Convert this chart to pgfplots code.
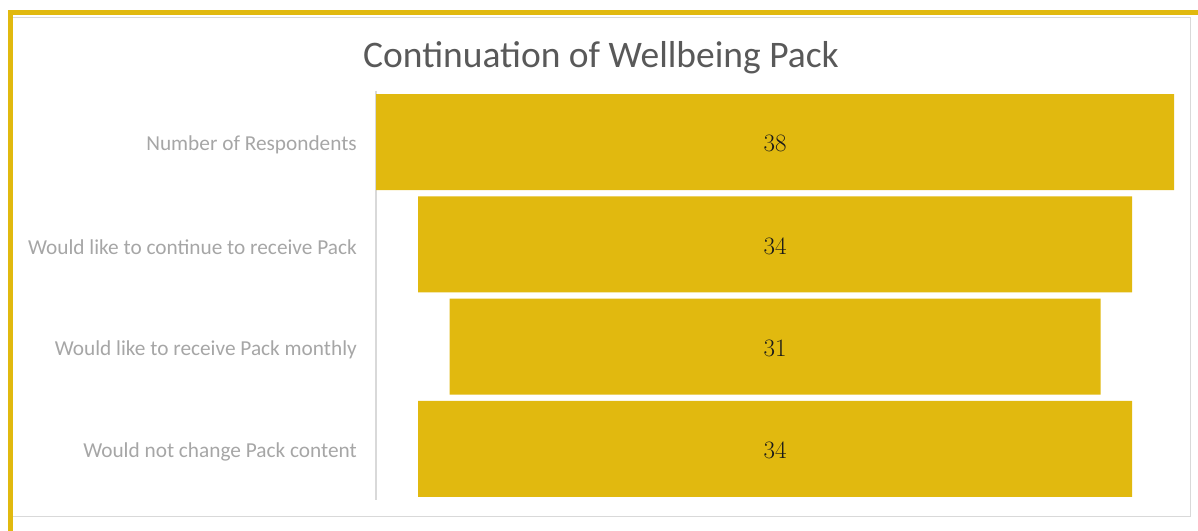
\documentclass[border=0pt]{standalone}
\usepackage{fontspec}
\setmainfont{Carlito}
\usepackage{pgfplots}
\pgfplotsset{compat=1.18}
\usepackage{pgfplotstable}
\definecolor{gold}{HTML}{E1B90F}
\definecolor{titlegray}{HTML}{595959}
\definecolor{labelgray}{HTML}{A6A6A6}
\definecolor{axisgray}{HTML}{D9D9D9}
\pgfplotstableread{
idx off val
0 0 38
1 2 34
2 3.5 31
3 2 34
}\funnel
\begin{document}
\begin{tikzpicture}[x=1bp,y=1bp]
\useasboundingbox (0,0) rectangle (1198,531);
\draw[axisgray, line width=1bp] (12.5,531-18) rectangle (1190.5,531-517);
\fill[gold] (8,531-10) rectangle (1198,531-15);
\fill[gold] (8,531-10) rectangle (13,0);
\node[anchor=base, text=titlegray, font=\fontsize{37.5bp}{44bp}\selectfont] at (601,531-68) {Continuation of Wellbeing Pack};
\begin{axis}[
  at={(376bp,31bp)}, anchor=south west,
  width=798bp, height=409bp, scale only axis,
  xbar stacked, bar width=96bp,
  xmin=0, xmax=38, ymin=-0.5, ymax=3.5,
  y dir=reverse,
  axis x line=none, axis y line*=left,
  axis line style={draw=axisgray, line width=1.2bp, -},
  ytick={0,1,2,3},
  yticklabels={Number of Respondents, Would like to continue to receive Pack, Would like to receive Pack monthly, Would not change Pack content},
  major tick length=0pt,
  yticklabel style={font=\fontsize{21.3bp}{25bp}\selectfont, text=labelgray, anchor=east, inner sep=0pt, xshift=-19bp, yshift=-3bp},
  clip=false,
]
\addplot[draw=none, fill=none] table[x=off, y=idx]{\funnel};
\addplot[fill=gold, draw=none,
  point meta=explicit symbolic,
  nodes near coords={\fontsize{25bp}{30bp}\fontfamily{lmr}\selectfont\pgfplotspointmeta},
  every node near coord/.append style={anchor=center, text=black!90, yshift=-1.5bp},
] table[x=val, y=idx, meta=val]{\funnel};
\end{axis}
\end{tikzpicture}
\end{document}
